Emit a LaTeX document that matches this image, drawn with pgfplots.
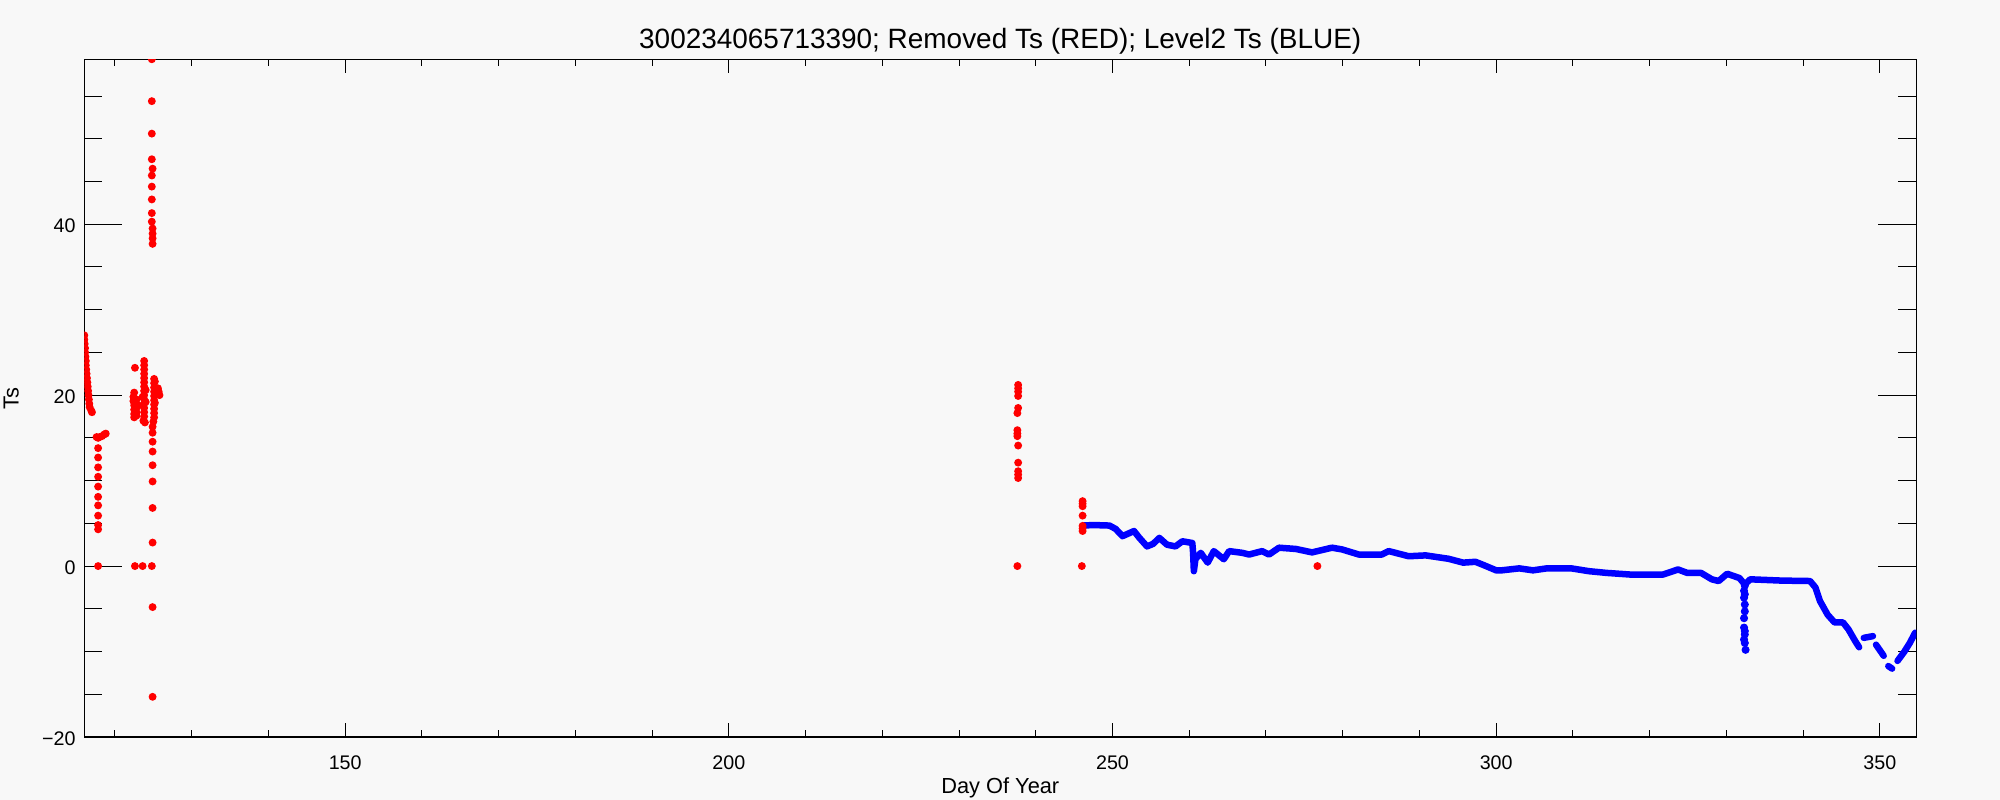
\documentclass[border=0pt]{standalone}
\usepackage{fontspec}
\setmainfont{Liberation Sans}
\usepackage{pgfplots}
\pgfplotsset{compat=1.18}
\definecolor{bg}{RGB}{248,248,248}
\definecolor{idlred}{RGB}{255,0,0}
\definecolor{idlblue}{RGB}{0,0,255}
\begin{document}
\begin{tikzpicture}
\fill[bg] (0,0) rectangle (200mm,80mm);
\begin{axis}[
  at={(8.43mm,6.3mm)}, anchor=south west,
  scale only axis, width=183.2mm, height=67.77mm,
  xmin=116, xmax=354.75, ymin=-20, ymax=59.3,
  axis line style={line width=0.15mm},
  tick align=inside,
  xtick={150,200,250,300,350}, xticklabels={150,200,250,300,350},
  minor xtick={120,130,140,160,170,180,190,210,220,230,240,260,270,280,290,310,320,330,340},
  ytick={-20,0,20,40}, yticklabels={−20,0,20,40},
  minor ytick={-15,-10,-5,5,10,15,25,30,35,45,50,55},
  xtick style={line width=0.1mm, black, /pgfplots/major tick length=1.4mm, /pgfplots/minor tick length=0.7mm},
  ytick style={line width=0.1mm, black, /pgfplots/major tick length=3.8mm, /pgfplots/minor tick length=1.8mm},
  ticklabel style={font=\fontsize{5.6}{6}\selectfont},
  xticklabel style={anchor=base, yshift=-3.3mm},
  yticklabel style={anchor=east, inner sep=0pt, xshift=-0.8mm, yshift=-0.15mm},
  xlabel={Day Of Year}, ylabel={Ts},
  label style={font=\fontsize{6.2}{7}\selectfont},
  xlabel style={at={(rel axis cs:0.5,0)}, anchor=base, yshift=-5.7mm},
  ylabel style={at={(rel axis cs:0,0.5)}, anchor=center, yshift=7.3mm},
  every axis title shift=0pt,
  title={300234065713390; Removed Ts (RED); Level2 Ts (BLUE)},
  title style={font=\fontsize{7.95}{9}\selectfont, at={(rel axis cs:0.5,1)}, anchor=base, yshift=1.1mm},
  clip marker paths=true,
  unbounded coords=jump,
]
% Level2 Ts (blue trace)
\addplot[idlblue, line width=0.65mm, line join=round, line cap=round] coordinates {
(246.1,4.74)(247.5,4.8)(249.6,4.74)(250.4,4.35)(251.3,3.5)(252.8,4.1)(253.5,3.3)
(254.5,2.3)(255.3,2.6)(256.1,3.3)(257.1,2.5)(258.2,2.3)(259.1,2.9)(260.4,2.7)
(260.5,1.55)(260.6,-0.6)(260.8,0.8)(261.5,1.55)(262.4,0.4)(263.2,1.75)(264.5,0.8)
(265.2,1.75)(266.9,1.55)(267.8,1.35)(269.5,1.75)(270.4,1.35)(271.7,2.15)(273.9,2.0)
(276.0,1.6)(278.6,2.15)(279.9,1.95)(282.1,1.35)(285.1,1.35)(286.0,1.75)(288.6,1.15)
(290.8,1.25)(293.8,0.85)(295.7,0.4)(297.3,0.5)(298.4,0.1)(300.0,-0.5)(300.7,-0.5)
(303.0,-0.27)(304.8,-0.5)(306.6,-0.27)(309.8,-0.27)(312.1,-0.6)(314.4,-0.8)
(317.6,-1.0)(321.7,-1.0)(323.7,-0.4)(324.9,-0.8)(326.7,-0.8)(328.1,-1.55)(329.0,-1.75)
(330.1,-0.9)(331.7,-1.4)(332.4,-2.15)(333.1,-1.55)(337.2,-1.7)(340.9,-1.75)
(341.6,-2.5)(342.2,-4.1)(343.2,-5.7)(344.1,-6.6)(345.2,-6.6)(345.9,-7.4)(346.8,-8.8)
(347.3,-9.5)(347.6,nan)
(347.9,-8.4)(349.1,-8.2)(349.3,nan)
(349.5,-9.2)(350.5,-10.5)(350.8,nan)
(351.1,-11.7)(351.6,-12.0)(351.9,nan)
(352.3,-11.1)(353.2,-10.0)(353.9,-9.0)(354.6,-7.8)
};
\addplot[only marks, color=idlblue, mark=*, mark size=0.33mm, mark options={solid, fill=idlblue}] coordinates {
(332.4,-2.3)(332.3,-2.9)(332.4,-3.3)(332.3,-3.7)(332.4,-4.5)(332.4,-5.3)(332.3,-6.1)
(332.3,-7.2)(332.4,-7.6)(332.4,-8.0)(332.3,-8.6)(332.4,-9.0)(332.5,-9.8)
};
% Removed Ts (red points)
\addplot[only marks, color=idlred, mark=*, mark size=0.32mm, mark options={solid, fill=idlred}] coordinates {
(116.0,27.0)(116.0,26.5)(116.05,26.0)(116.1,25.5)(116.1,25.0)(116.15,24.5)(116.2,24.0)
(116.2,23.5)(116.25,23.0)(116.3,22.5)(116.35,22.0)(116.4,21.5)(116.45,21.0)(116.5,20.5)
(116.55,20.0)(116.6,19.5)(116.65,19.0)(116.7,18.6)(116.9,18.2)(117.0,18.0)
(117.8,15.0)(117.8,13.8)(117.8,12.7)(117.8,11.55)(117.8,10.45)(117.8,9.3)(117.8,8.1)
(117.8,7.1)(117.8,5.9)(117.8,4.8)(117.8,4.3)(117.8,0)
(117.6,15.1)(118.0,15.1)(118.3,15.2)(118.6,15.4)(118.8,15.5)
(122.6,23.2)(122.5,20.3)(122.4,19.8)(122.4,19.3)(122.5,18.8)(122.5,18.3)(122.5,17.8)
(122.5,17.4)(122.8,19.5)(122.8,19.0)(122.8,18.5)(122.8,18.0)(122.8,17.6)(122.6,0)
(123.8,24.0)(123.8,23.5)(123.8,23.0)(123.8,22.5)(123.8,22.0)(123.8,21.5)(123.8,21.0)
(123.8,20.5)(123.8,20.0)(123.8,19.5)(123.8,19.0)(123.8,18.5)(123.8,18.0)(123.8,17.5)
(123.6,19.8)(123.6,18.8)(123.7,17.0)(123.9,16.8)(124.0,20.6)(124.0,19.2)(123.6,0)
(125.1,21.9)(125.1,21.4)(125.1,20.9)(125.1,20.4)(125.1,19.9)(125.1,19.4)(125.1,18.9)
(125.1,18.4)(125.1,17.9)(125.1,17.4)(125.0,16.9)(125.2,21.6)(125.2,20.6)(125.2,19.1)
(125.6,20.8)(125.7,20.4)(125.8,20.0)
(124.9,16.3)(124.9,15.6)(124.9,14.55)(124.9,13.4)(124.9,11.8)(124.9,9.9)(124.9,6.8)
(124.9,2.75)(124.8,0)(124.9,-4.8)(124.9,-15.3)
(124.8,59.3)(124.8,54.4)(124.8,50.6)(124.8,47.6)(124.9,46.5)(124.8,45.7)(124.8,44.4)
(124.8,42.9)(124.8,41.3)(124.8,40.3)(124.9,39.5)(124.9,38.9)(124.9,38.35)(124.9,37.7)
(237.7,21.2)(237.7,20.8)(237.7,20.4)(237.7,19.9)(237.7,18.5)(237.6,17.9)(237.6,15.9)
(237.6,15.5)(237.6,15.2)(237.7,14.1)(237.7,12.1)(237.7,11.1)(237.7,10.7)(237.7,10.3)
(237.6,0)
(246.1,7.6)(246.1,7.3)(246.1,7.0)(246.1,5.9)(246.1,4.7)(246.1,4.4)(246.1,4.1)
(246.0,0)(246.1,-20.3)
(276.7,0)
};
\end{axis}
\pgfresetboundingbox
\useasboundingbox (0,0) rectangle (200mm,80mm);
\end{tikzpicture}
\end{document}
